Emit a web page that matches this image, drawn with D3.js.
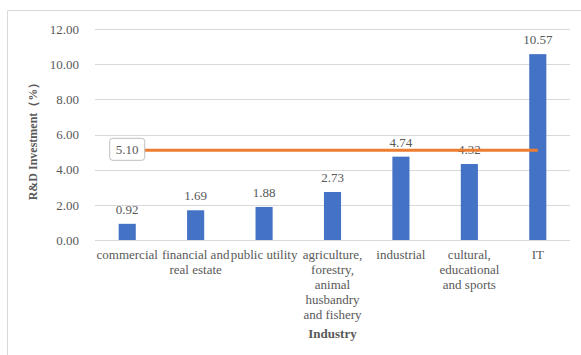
<!DOCTYPE html>
<html><head><meta charset="utf-8">
<script src="https://cdn.jsdelivr.net/npm/d3@7"></script>
<style>body{margin:0;background:#fff;}svg{display:block;}</style>
</head><body>
<svg id="chart" width="581" height="355"></svg>
<script>
const categories = ["commercial","financial and real estate","public utility","agriculture, forestry, animal husbandry and fishery","industrial","cultural, educational and sports","IT"];
const categoryLines = [["commercial"],["financial and","real estate"],["public utility"],["agriculture,","forestry,","animal","husbandry","and fishery"],["industrial"],["cultural,","educational","and sports"],["IT"]];
const investment = [0.92,1.69,1.88,2.73,4.74,4.32,10.57];
const average = [5.10,5.10,5.10,5.10,5.10,5.10,5.10];
const yTicks = [0,2,4,6,8,10,12];
const yTitle = "R&D Investment（%）";
const xTitle = "Industry";

const svg = d3.select("#chart");
const font = "'Liberation Serif','Times New Roman',serif";
const m = {left:93, right:572, top:29, bottom:240};

// outer frame
svg.append("path").attr("d","M7.5,356 V10.5 H582").attr("fill","none").attr("stroke","#d9d9d9").attr("stroke-width",1);

const x = d3.scaleBand().domain(categories).range([m.left,m.right]).paddingInner(0.75).paddingOuter(0.375);
const y = d3.scaleLinear().domain([0,12]).range([m.bottom,m.top]);

// gridlines
svg.append("g").selectAll("line").data(yTicks).join("line")
  .attr("x1",m.left+2).attr("x2",m.right-2)
  .attr("y1",d=>Math.round(y(d))+0.5).attr("y2",d=>Math.round(y(d))+0.5)
  .attr("stroke","#d9d9d9").attr("stroke-width",1);

// y axis labels
const yAxis = d3.axisLeft(y).tickValues(yTicks).tickFormat(d3.format(".2f")).tickSize(0).tickPadding(0);
const ya = svg.append("g").attr("transform","translate(79,0)").call(yAxis);
ya.select(".domain").remove();
ya.selectAll("text").attr("font-family",font).attr("font-size",13).attr("fill","#595959");

// bars
svg.append("g").selectAll("rect").data(categories).join("rect")
  .attr("x",d=>x(d)).attr("width",x.bandwidth())
  .attr("y",(d,i)=>y(investment[i])).attr("height",(d,i)=>y(0)-y(investment[i]))
  .attr("fill","#4472c4");

// bar value labels
svg.append("g").selectAll("text").data(categories).join("text")
  .attr("x",d=>x(d)+x.bandwidth()/2).attr("y",(d,i)=>y(investment[i])-10)
  .attr("text-anchor","middle").attr("font-family",font).attr("font-size",13).attr("fill","#595959")
  .text((d,i)=>investment[i].toFixed(2));

// average line
const line = d3.line().x((d,i)=>x(categories[i])+x.bandwidth()/2).y(d=>y(d));
svg.append("path").datum(average).attr("d",line).attr("fill","none").attr("stroke","#ed7d31").attr("stroke-width",3);

// average label box at first point
const lx = x(categories[0])+x.bandwidth()/2, ly = y(average[0]);
svg.append("rect").attr("x",lx-17.5).attr("y",ly-12).attr("width",35).attr("height",22).attr("rx",3)
  .attr("fill","#fff").attr("stroke","#bfbfbf").attr("stroke-width",1);
svg.append("text").attr("x",lx).attr("y",ly+4).attr("text-anchor","middle")
  .attr("font-family",font).attr("font-size",13).attr("fill","#595959").text(average[0].toFixed(2));

// category labels
const cg = svg.append("g").selectAll("text").data(categories).join("text")
  .attr("text-anchor","middle").attr("font-family",font).attr("font-size",13).attr("fill","#595959");
cg.each(function(d,i){
  const t = d3.select(this);
  categoryLines[i].forEach((s,j)=>{
    t.append("tspan").attr("x",x(d)+x.bandwidth()/2).attr("y",259+j*15).text(s);
  });
});

// axis titles
svg.append("text").attr("x",(m.left+m.right)/2).attr("y",338).attr("text-anchor","middle")
  .attr("font-family",font).attr("font-size",13).attr("font-weight","bold").attr("fill","#595959").text(xTitle);
svg.append("text").attr("transform",`translate(37,${(m.top+m.bottom)/2+4}) rotate(-90)`).attr("text-anchor","middle")
  .attr("font-family",font).attr("font-size",12).attr("font-weight","bold").attr("fill","#595959").text(yTitle);
</script>
</body></html>
